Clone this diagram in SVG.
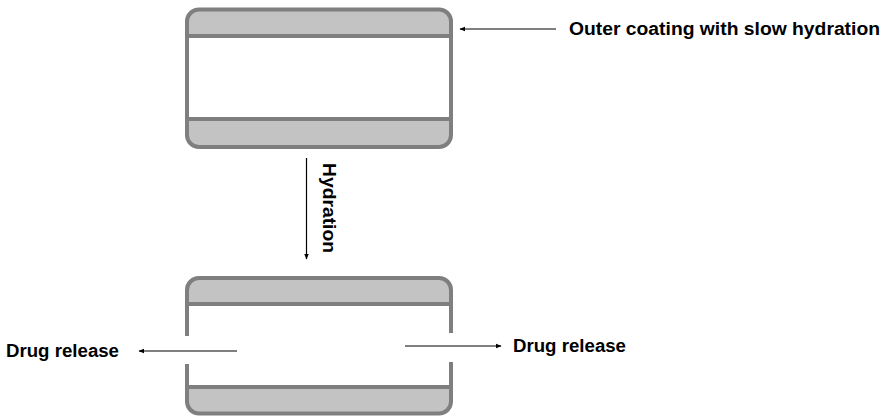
<svg xmlns="http://www.w3.org/2000/svg" width="886" height="416" viewBox="0 0 886 416">
  <style>
    .band { fill: #c3c3c3; stroke: #7f7f7f; stroke-width: 4; stroke-linejoin: round; }
    .wall { fill: none; stroke: #7f7f7f; stroke-width: 4; }
    .conn { fill: none; stroke: #000; stroke-width: 1.2; marker-end: url(#head); }
    .lbl { font-family: "Liberation Sans", Arial, sans-serif; font-weight: bold; font-size: 18px; fill: #000; }
  </style>
  <defs>
    <marker id="head" viewBox="0 0 10 10" refX="9" refY="5" markerWidth="6" markerHeight="6" markerUnits="userSpaceOnUse" orient="auto">
      <path d="M0,1 L10,5 L0,9 Z" fill="#000"/>
    </marker>
  </defs>
  <rect width="886" height="416" fill="#fff"/>

  <!-- Intact tablet with outer coating -->
  <g id="tablet-coated">
    <rect x="187" y="9.5" width="264" height="137.5" rx="12" fill="#fff" stroke="none"/>
    <path class="band" d="M187,36 V21.5 A12,12 0 0 1 199,9.5 H439 A12,12 0 0 1 451,21.5 V36 Z"/>
    <path class="band" d="M187,119 V135 A12,12 0 0 0 199,147 H439 A12,12 0 0 0 451,135 V119 Z"/>
    <line class="wall" x1="187" y1="36" x2="187" y2="119"/>
    <line class="wall" x1="451" y1="36" x2="451" y2="119"/>
  </g>

  <!-- Hydrated tablet with opened side walls -->
  <g id="tablet-hydrated">
    <path class="band" d="M187,304 V290 A12,12 0 0 1 199,278 H439 A12,12 0 0 1 451,290 V304 Z"/>
    <path class="band" d="M187,387 V401.5 A12,12 0 0 0 199,413.5 H439 A12,12 0 0 0 451,401.5 V387 Z"/>
    <line class="wall" x1="187" y1="304" x2="187" y2="336"/>
    <line class="wall" x1="187" y1="364" x2="187" y2="387"/>
    <line class="wall" x1="451" y1="304" x2="451" y2="333"/>
    <line class="wall" x1="451" y1="362" x2="451" y2="387"/>
  </g>

  <g id="label-coating">
    <text class="lbl" x="569" y="35" textLength="311" lengthAdjust="spacingAndGlyphs">Outer coating with slow hydration</text>
  </g>
  <g id="label-hydration">
    <text class="lbl" transform="translate(323,163) rotate(90)" x="0" y="0" textLength="90" lengthAdjust="spacingAndGlyphs">Hydration</text>
  </g>
  <g id="label-release-left">
    <text class="lbl" x="6" y="357" textLength="113" lengthAdjust="spacingAndGlyphs">Drug release</text>
  </g>
  <g id="label-release-right">
    <text class="lbl" x="513" y="352" textLength="113" lengthAdjust="spacingAndGlyphs">Drug release</text>
  </g>

  <g id="connectors">
    <line class="conn" x1="556" y1="29" x2="460" y2="29"/>
    <line class="conn" x1="306.5" y1="158" x2="306.5" y2="259"/>
    <line class="conn" x1="237" y1="351" x2="139" y2="351"/>
    <line class="conn" x1="405" y1="346" x2="501" y2="346"/>
  </g>
</svg>
